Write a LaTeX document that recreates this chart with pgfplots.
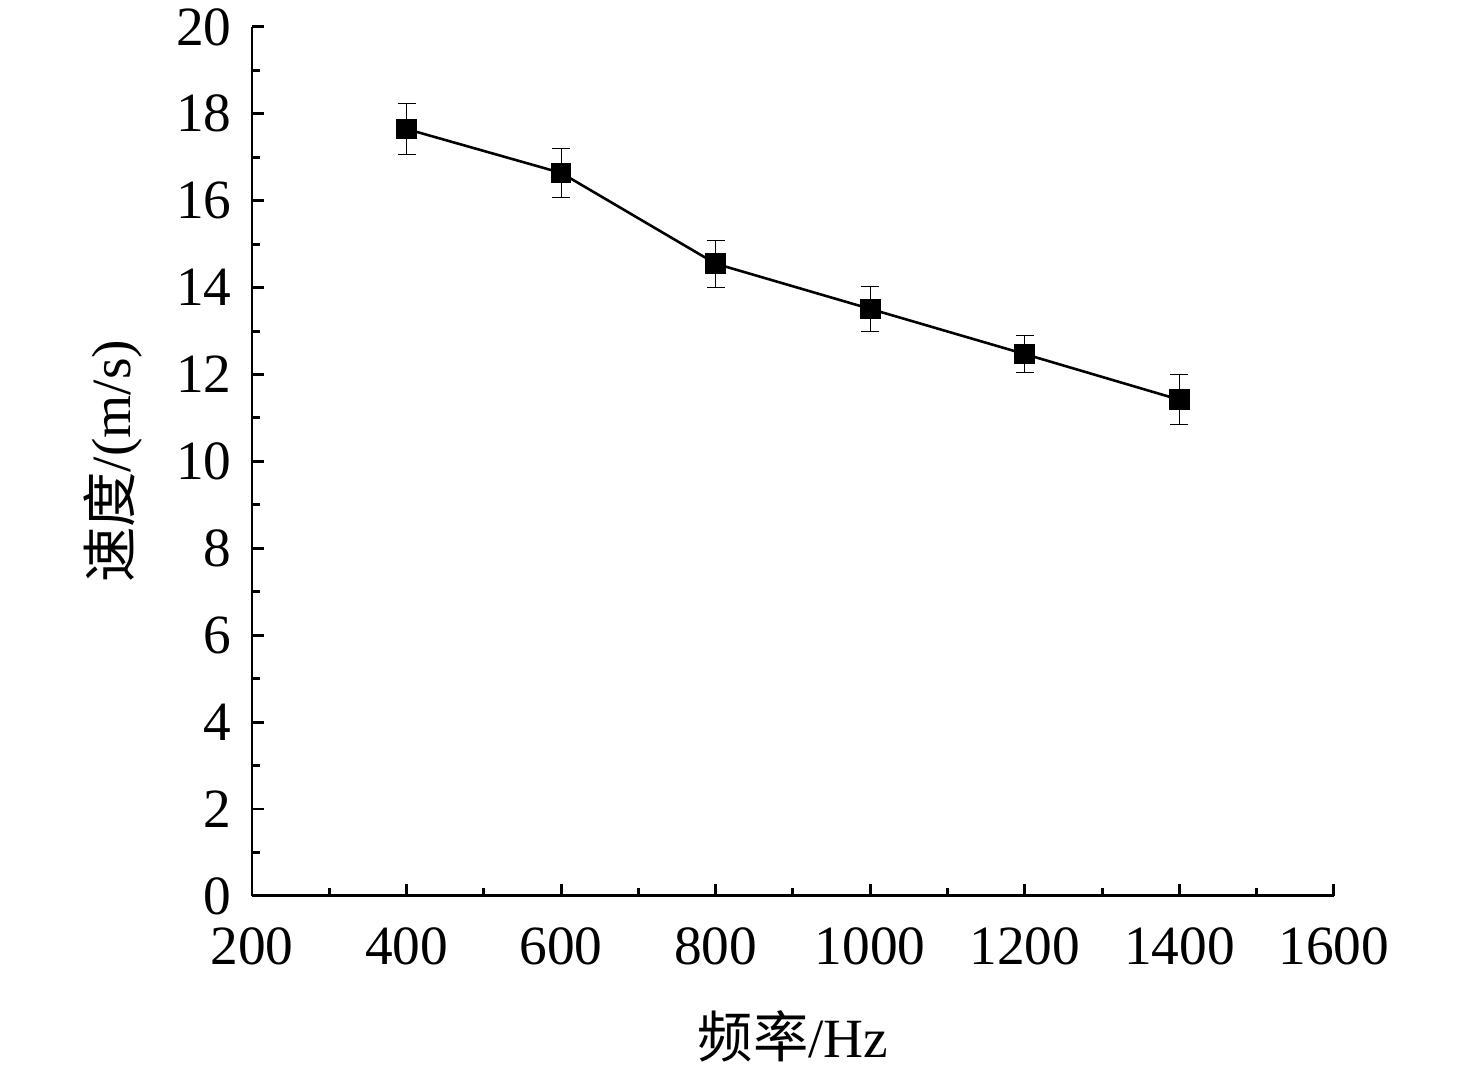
\documentclass[border=0pt]{standalone}
\usepackage{pgfplots}
\pgfplotsset{compat=1.18}
\usepackage{fontspec}
\setmainfont{Liberation Serif}
\newfontfamily\cjk{Noto Sans CJK SC}
\begin{document}
\begin{tikzpicture}
\begin{axis}[
  scale only axis,
  width=293.2pt, height=235.5pt,
  xmin=200, xmax=1600, ymin=0, ymax=20,
  axis x line*=bottom, axis y line*=left,
  axis line style={line width=0.8pt, -},
  xtick={200,400,...,1600},
  ytick={0,2,...,20},
  minor x tick num=1, minor y tick num=1,
  tick align=inside,
  major tick length=3.3pt, minor tick length=2.2pt,
  every tick/.style={line width=0.8pt, black},
  tick label style={font=\fontsize{15}{16}\selectfont},
  /pgf/number format/assume math mode=true,
  /pgf/number format/1000 sep={},
  xticklabel style={yshift=-5pt},
  yticklabel style={xshift=-2pt},
  xlabel={{\cjk 频率}/Hz},
  ylabel={{\cjk 速度}/(m/s)},
  label style={font=\fontsize{15}{16}\selectfont},
  xlabel style={at={(axis description cs:0.5,0)}, anchor=center, yshift=-38pt},
  ylabel style={at={(axis description cs:0,0.5)}, anchor=center, xshift=0pt, yshift=37.7pt},
]
\addplot[black, line width=0.7pt, mark=square*, mark size=2.45pt,
  mark options={solid, fill=black},
  error bars/.cd, y dir=both, y explicit,
  error bar style={line width=0.3pt, black},
  error mark options={rotate=90, mark size=2.45pt, line width=0.3pt, black}]
coordinates {
  (400,17.65) +- (0,0.58)
  (600,16.64) +- (0,0.57)
  (800,14.55) +- (0,0.54)
  (1000,13.51) +- (0,0.52)
  (1200,12.47) +- (0,0.43)
  (1400,11.42) +- (0,0.57)
};
\end{axis}
\pgfresetboundingbox
\path (current axis.south west) ++(-68.3pt,-47.7pt);
\path (current axis.north east) ++(38.5pt,7.3pt);
\end{tikzpicture}
\end{document}
